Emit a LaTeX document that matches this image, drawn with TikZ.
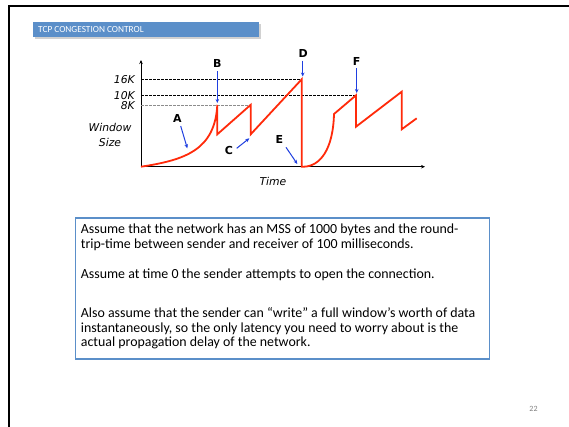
\documentclass[tikz,border=0pt]{standalone}
\usepackage{fontspec}
\setmainfont{Carlito}
\newfontfamily\dejasans{DejaVu Sans}
\usetikzlibrary{arrows.meta}
\definecolor{titleblue}{HTML}{5B8FC9}
\definecolor{boxblue}{HTML}{5B8FC9}
\definecolor{curvered}{HTML}{FF2A0A}
\definecolor{arrowblue}{HTML}{1F3FE0}
\tikzset{
  lbl/.style={font=\dejasans\bfseries\fontsize{11}{12}\selectfont, inner sep=0pt},
  axlbl/.style={font=\dejasans\itshape\fontsize{10.8}{11}\selectfont, inner sep=0pt},
  ticklbl/.style={axlbl, text height=7.6pt, text depth=0pt, anchor=base east},
  ptr/.style={arrowblue, line width=1pt, -{Stealth[length=4pt,width=3.5pt]}},
  guide/.style={dashed, line width=0.6pt, dash pattern=on 2.5pt off 1.5pt},
  wnd/.style={curvered, line width=1.8pt, line join=miter},
  bodytxt/.style={font=\fontsize{13.9}{15}\selectfont, anchor=base west, inner sep=0pt},
}
\begin{document}
\begin{tikzpicture}[x=1pt,y=-1pt]
\useasboundingbox (0,0) rectangle (569,426);
\fill[white] (0,0) rectangle (569,426);
% slide border
\draw[line width=2pt] (9,440) -- (9,6) -- (580,6);
% title bar
\fill[black!18] (34.5,23.5) rectangle (261,39);
\node[fill=titleblue, minimum width=226pt, minimum height=15pt, anchor=north west, inner sep=0pt] (title) at (33,22) {};
\node[anchor=west, text=white, font=\fontsize{9.3}{10}\selectfont, inner sep=0pt] (titletxt) at (38,29.8) {TCP CONGESTION CONTROL};
% axes
\coordinate (O) at (141,166.7);
\coordinate (ytop) at (141,60);
\coordinate (xend) at (425,166.7);
\draw[line width=0.9pt, -{Stealth[length=4pt,width=3.5pt]}] (O) -- (ytop);
\draw[line width=0.9pt, -{Stealth[length=4pt,width=3.5pt]}] (O) -- (xend);
% guide lines
\coordinate (g16) at (141,79.3);
\coordinate (g10) at (141,95.3);
\coordinate (g8) at (141,104.8);
\coordinate (D) at (301.7,79.3);
\coordinate (F) at (356,95.3);
\coordinate (P2) at (250.7,104.8);
\draw[guide] (g16) -- (D);
\draw[guide] (g10) -- (F);
\draw[guide, black!45] (g8) -- (P2);
% axis labels
\node[ticklbl] (k16) at (135,83) {16K};
\node[ticklbl] (k10) at (135,99.3) {10K};
\node[ticklbl] (k8) at (135,109.3) {8K};
\node[axlbl] (win) at (110,127) {Window};
\node[axlbl] (size) at (110,142.5) {Size};
\node[axlbl] (time) at (273,181) {Time};
% window curve
\draw[wnd] (O) .. controls (185,160) and (215,150) .. (217.3,104.8)
  -- (217.3,134.3) -- (P2) -- (250.7,134.3) -- (D) -- (301.7,166.7)
  -- (304,166.7) .. controls (320,166) and (333,150) .. (334,114)
  -- (F) -- (356,126.7) -- (401.7,91.7) -- (401.7,129.3) -- (416.7,118.3);
% labels and pointers
\node[lbl] (A) at (177.3,118.5) {A};
\node[lbl] (B) at (217.3,63.5) {B};
\node[lbl] (C) at (229,150.5) {C};
\node[lbl] (Dl) at (303.3,53.5) {D};
\node[lbl] (E) at (279.3,139) {E};
\node[lbl] (Fl) at (356.7,61) {F};
\coordinate (Aend) at (187.3,148.3);
\coordinate (Bend) at (217.3,103);
\coordinate (Cend) at (249.3,138.3);
\coordinate (Dend) at (302.7,76.5);
\coordinate (Eend) at (297.3,164);
\coordinate (Fend) at (356.7,93);
\draw[ptr] (180.7,126) -- (Aend);
\draw[ptr] (217.3,71) -- (Bend);
\draw[ptr] (236.7,148.3) -- (Cend);
\draw[ptr] (302.7,60.7) -- (Dend);
\draw[ptr] (286,147.3) -- (Eend);
\draw[ptr] (356.7,68.3) -- (Fend);
% text box
\node[draw=boxblue, line width=1.2pt, anchor=north west, minimum width=413.5pt, minimum height=141pt, inner sep=0pt] (box) at (75,217.3) {};
\node[bodytxt] (l1) at (80.7,233.7) {Assume that the network has an MSS of 1000 bytes and the round-};
\node[bodytxt] (l2) at (80.7,248.5) {trip-time between sender and receiver of 100 milliseconds.};
\node[bodytxt] (l3) at (80.7,278) {Assume at time 0 the sender attempts to open the connection.};
\node[bodytxt] (l4) at (80.7,317) {Also assume that the sender can “write” a full window’s worth of data};
\node[bodytxt] (l5) at (80.7,332) {instantaneously, so the only latency you need to worry about is the};
\node[bodytxt] (l6) at (80.7,346) {actual propagation delay of the network.};
% page number
\node[text=black!50, font=\fontsize{8}{9}\selectfont, inner sep=0pt] (pg) at (533.5,409) {22};
\end{tikzpicture}
\end{document}
